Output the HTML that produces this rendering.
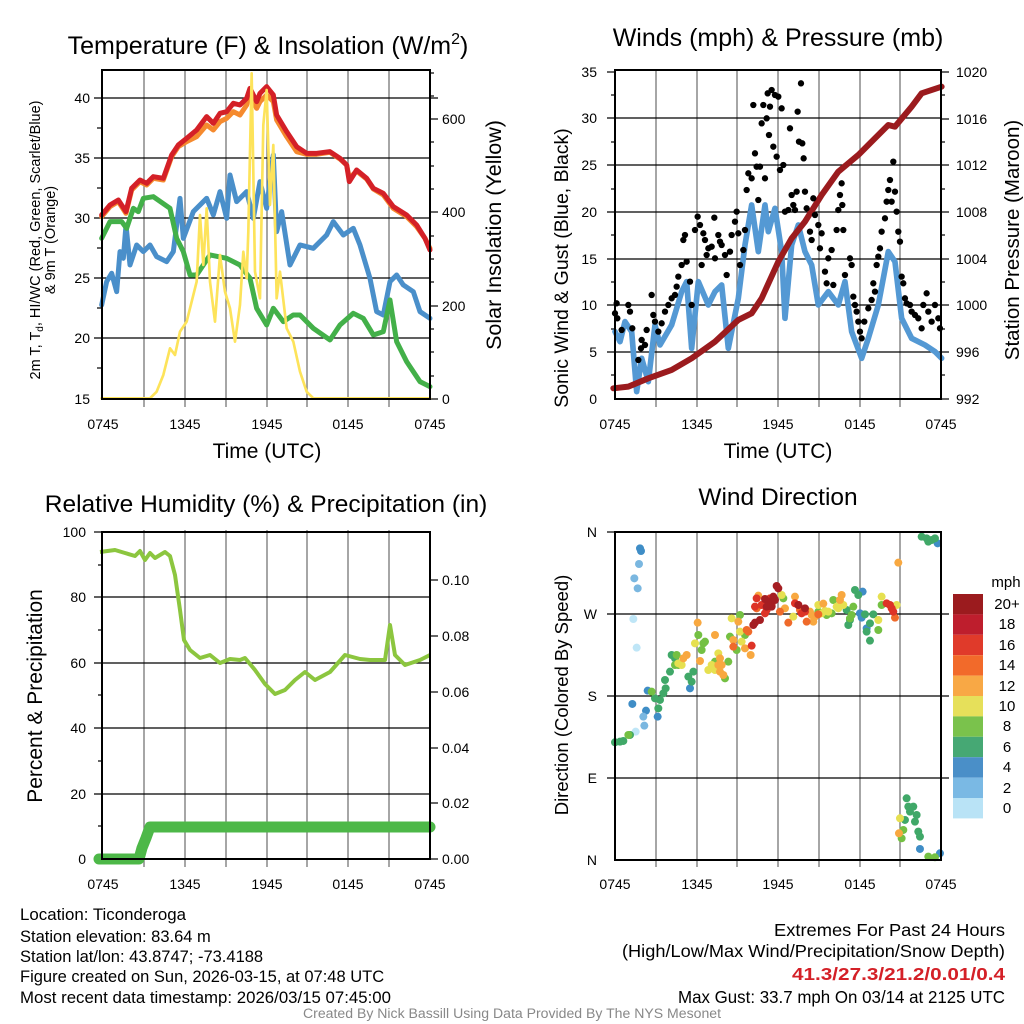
<!DOCTYPE html>
<html><head><meta charset="utf-8"><style>
html,body{margin:0;padding:0;background:#fff;}
svg{display:block;font-family:"Liberation Sans",Arial,sans-serif;}
</style></head><body>
<svg width="1024" height="1024" viewBox="0 0 1024 1024" xmlns="http://www.w3.org/2000/svg">
<rect width="1024" height="1024" fill="#fff"/>

<!-- ================= PANEL 1 ================= -->
<g>
<g stroke="#777" stroke-width="1.3">
<line x1="144" y1="70" x2="144" y2="407"/><line x1="185" y1="70" x2="185" y2="407"/><line x1="226" y1="70" x2="226" y2="407"/><line x1="267" y1="70" x2="267" y2="407"/><line x1="307" y1="70" x2="307" y2="407"/><line x1="348" y1="70" x2="348" y2="407"/><line x1="389" y1="70" x2="389" y2="407"/>
</g>
<g stroke="#000" stroke-width="1.2">
<line x1="94" y1="98" x2="438" y2="98"/><line x1="94" y1="158" x2="430" y2="158"/><line x1="94" y1="218" x2="430" y2="218"/><line x1="94" y1="278" x2="430" y2="278"/><line x1="94" y1="338" x2="430" y2="338"/>
<line x1="97" y1="128" x2="102" y2="128"/><line x1="97" y1="188" x2="102" y2="188"/><line x1="97" y1="248" x2="102" y2="248"/><line x1="97" y1="308" x2="102" y2="308"/><line x1="97" y1="368" x2="102" y2="368"/>
<line x1="430" y1="119" x2="438" y2="119"/><line x1="430" y1="212" x2="438" y2="212"/><line x1="430" y1="306" x2="438" y2="306"/><line x1="430" y1="399" x2="438" y2="399"/>
<line x1="430" y1="142" x2="434" y2="142"/><line x1="430" y1="166" x2="434" y2="166"/><line x1="430" y1="189" x2="434" y2="189"/><line x1="430" y1="236" x2="434" y2="236"/><line x1="430" y1="259" x2="434" y2="259"/><line x1="430" y1="282" x2="434" y2="282"/><line x1="430" y1="329" x2="434" y2="329"/><line x1="430" y1="352" x2="434" y2="352"/><line x1="430" y1="376" x2="434" y2="376"/><line x1="430" y1="96" x2="434" y2="96"/><line x1="430" y1="73" x2="434" y2="73"/>
</g>
<g transform="translate(100,65) scale(0.3333)" fill="none" stroke-linejoin="round" stroke-linecap="round">
<polyline stroke="#f58a2e" stroke-width="15" points="5,455 30,425 55,410 78,445 95,375 120,350 140,360 160,340 190,345 215,275 235,245 260,230 290,215 320,180 340,195 360,170 380,160 400,140 420,150 440,120 450,85 470,130 480,110 500,90 520,110 530,165 560,215 590,260 620,268 650,268 690,262 720,282 740,300 748,340 770,318 800,342 820,372 850,390 880,430 920,455 950,485 975,520 990,550"/>
<polyline stroke="#d42027" stroke-width="15" points="5,450 30,420 55,405 78,440 95,370 120,345 140,355 160,335 190,340 215,270 235,240 260,220 290,195 320,155 340,175 360,145 380,140 400,115 420,120 440,100 450,70 470,110 480,85 500,65 520,90 530,150 560,200 590,245 620,265 650,265 690,260 720,280 740,300 748,350 770,315 800,340 820,370 850,385 880,425 920,450 950,480 975,520 990,555"/>
<polyline stroke="#4a8fca" stroke-width="15" points="5,720 20,650 35,625 50,680 60,560 70,580 78,480 90,600 110,540 130,560 150,540 170,575 200,590 220,560 240,400 250,520 280,440 320,400 340,450 360,380 380,460 390,330 410,410 440,380 460,460 480,350 500,430 520,270 530,500 545,440 570,600 600,540 640,550 680,510 700,470 730,510 760,490 780,540 810,640 830,740 850,750 870,650 890,630 910,660 940,680 960,740 990,760"/>
<polyline stroke="#43b049" stroke-width="15" points="5,520 30,470 65,470 80,490 100,430 115,440 130,400 160,395 210,430 230,520 250,560 270,630 290,630 330,570 380,580 420,600 450,640 470,730 500,780 520,730 550,770 580,750 600,750 640,790 690,825 720,780 760,745 790,760 820,810 850,800 870,705 890,830 920,890 960,950 990,965"/>
<polyline stroke="#fde35a" stroke-width="8" points="5,1000 150,1000 170,980 190,930 210,850 225,870 240,800 260,770 290,650 300,450 310,600 320,430 330,650 345,770 360,570 375,680 390,730 405,830 420,720 430,560 440,640 445,500 455,25 465,620 480,700 490,180 500,75 510,420 520,240 530,700 540,620 560,790 580,830 600,920 620,980 640,1000 990,1000"/>
</g>
<rect x="102" y="70" width="328" height="329" fill="none" stroke="#000" stroke-width="2"/>
<g font-size="14" text-anchor="end" fill="#000">
<text x="90" y="103">40</text><text x="90" y="163">35</text><text x="90" y="223">30</text><text x="90" y="283">25</text><text x="90" y="343">20</text><text x="90" y="404">15</text>
</g>
<g font-size="14" text-anchor="start">
<text x="442" y="124">600</text><text x="442" y="217">400</text><text x="442" y="311">200</text><text x="442" y="404">0</text>
</g>
<g font-size="14" text-anchor="middle">
<text x="103" y="429">0745</text><text x="185" y="429">1345</text><text x="267" y="429">1945</text><text x="348" y="429">0145</text><text x="430" y="429">0745</text>
</g>
<text x="267" y="458" font-size="21" text-anchor="middle">Time (UTC)</text>
<text x="268" y="54" font-size="25" text-anchor="middle">Temperature (F) &amp; Insolation (W/m<tspan font-size="16" dy="-10">2</tspan><tspan dy="10">)</tspan></text>
<text transform="translate(40,240) rotate(-90)" font-size="14.5" text-anchor="middle">2m T, T<tspan font-size="10" dy="3">d</tspan><tspan dy="-3">, HI/WC (Red, Green, Scarlet/Blue)</tspan></text>
<text transform="translate(55,240) rotate(-90)" font-size="14.5" text-anchor="middle">&amp; 9m T (Orange)</text>
<text transform="translate(501,235) rotate(-90)" font-size="21.5" text-anchor="middle">Solar Insolation (Yellow)</text>
</g>

<!-- ================= PANEL 2 ================= -->
<g>
<g stroke="#777" stroke-width="1.3">
<line x1="656" y1="70" x2="656" y2="407"/><line x1="697" y1="70" x2="697" y2="407"/><line x1="737" y1="70" x2="737" y2="407"/><line x1="778" y1="70" x2="778" y2="407"/><line x1="819" y1="70" x2="819" y2="407"/><line x1="860" y1="70" x2="860" y2="407"/><line x1="900" y1="70" x2="900" y2="407"/>
</g>
<g stroke="#000" stroke-width="1.2">
<line x1="607" y1="72" x2="615" y2="72"/>
<line x1="607" y1="118" x2="941" y2="118"/><line x1="607" y1="165" x2="941" y2="165"/><line x1="607" y1="212" x2="941" y2="212"/><line x1="607" y1="259" x2="941" y2="259"/><line x1="607" y1="305" x2="941" y2="305"/><line x1="607" y1="352" x2="941" y2="352"/>
<line x1="941" y1="72" x2="949" y2="72"/><line x1="941" y1="119" x2="949" y2="119"/><line x1="941" y1="165" x2="949" y2="165"/><line x1="941" y1="212" x2="949" y2="212"/><line x1="941" y1="259" x2="949" y2="259"/><line x1="941" y1="305" x2="949" y2="305"/><line x1="941" y1="352" x2="949" y2="352"/><line x1="941" y1="399" x2="949" y2="399"/>
<line x1="941" y1="95" x2="945" y2="95"/><line x1="941" y1="142" x2="945" y2="142"/><line x1="941" y1="189" x2="945" y2="189"/><line x1="941" y1="235" x2="945" y2="235"/><line x1="941" y1="282" x2="945" y2="282"/><line x1="941" y1="329" x2="945" y2="329"/><line x1="941" y1="375" x2="945" y2="375"/>
<line x1="611" y1="95" x2="615" y2="95"/><line x1="611" y1="142" x2="615" y2="142"/><line x1="611" y1="189" x2="615" y2="189"/><line x1="611" y1="235" x2="615" y2="235"/><line x1="611" y1="282" x2="615" y2="282"/><line x1="611" y1="329" x2="615" y2="329"/><line x1="611" y1="375" x2="615" y2="375"/>
</g>
<g transform="translate(605,65) scale(0.3333)" fill="none" stroke-linejoin="round" stroke-linecap="round">
<polyline stroke="#5499d4" stroke-width="17" points="30,800 45,830 60,770 80,800 95,980 110,880 130,950 150,780 165,840 200,780 230,680 245,650 260,850 280,650 310,720 330,680 350,660 370,850 400,700 420,540 440,420 460,560 480,420 490,500 510,430 530,560 540,760 560,540 580,480 600,560 620,600 640,720 670,680 700,720 720,650 740,800 770,880 790,820 820,720 850,560 870,590 890,760 920,820 960,840 990,860 1010,880"/>
<polyline stroke="#9b1b1e" stroke-width="18" points="25,970 70,965 130,940 200,915 260,880 330,830 400,765 440,745 470,700 520,590 560,520 600,470 650,390 700,320 760,270 800,230 850,180 870,185 920,125 950,85 1010,65"/>
<path stroke="#000" stroke-width="19" d="M30,745h0M37,760h0M35,715h0M50,795h0M70,720h0M75,740h0M82,790h0M100,885h0M108,850h0M110,825h0M125,795h0M120,840h0M140,690h0M145,750h0M150,770h0M160,800h0M170,775h0M180,740h0M190,720h0M200,700h0M210,690h0M215,665h0M220,635h0M230,600h0M235,525h0M240,510h0M245,590h0M255,650h0M260,720h0M270,495h0M278,455h0M285,480h0M290,600h0M295,505h0M300,525h0M305,570h0M310,550h0M320,545h0M328,458h0M330,580h0M340,510h0M345,530h0M350,540h0M360,570h0M365,630h0M375,560h0M380,510h0M390,470h0M395,440h0M400,505h0M405,600h0M415,555h0M420,495h0M425,375h0M430,325h0M440,340h0M445,120h0M450,265h0M455,305h0M460,405h0M465,305h0M470,175h0M475,120h0M480,340h0M485,160h0M488,85h0M492,210h0M495,125h0M500,75h0M505,245h0M510,90h0M515,275h0M520,95h0M525,315h0M530,130h0M535,300h0M540,440h0M550,435h0M555,190h0M560,390h0M565,420h0M570,435h0M575,380h0M578,140h0M582,230h0M588,55h0M592,235h0M596,280h0M600,380h0M605,430h0M615,500h0M620,525h0M625,400h0M630,450h0M640,480h0M645,550h0M650,505h0M660,620h0M665,655h0M670,580h0M680,555h0M685,660h0M695,495h0M700,435h0M705,390h0M710,355h0M712,420h0M715,495h0M720,630h0M735,580h0M740,600h0M745,695h0M750,720h0M755,740h0M760,770h0M765,800h0M770,820h0M778,770h0M790,730h0M800,705h0M805,655h0M810,680h0M815,600h0M820,575h0M825,550h0M830,500h0M840,460h0M845,410h0M850,375h0M855,345h0M860,410h0M865,290h0M870,380h0M875,440h0M880,500h0M885,530h0M890,635h0M895,655h0M900,700h0M905,715h0M915,720h0M920,740h0M930,750h0M940,760h0M950,790h0M955,720h0M965,685h0M970,740h0M980,770h0M990,720h0M1000,760h0M1005,790h0"/>
</g>
<rect x="615" y="70" width="326" height="329" fill="none" stroke="#000" stroke-width="2"/>
<g font-size="14" text-anchor="end">
<text x="597" y="77">35</text><text x="597" y="123">30</text><text x="597" y="170">25</text><text x="597" y="217">20</text><text x="597" y="264">15</text><text x="597" y="310">10</text><text x="597" y="357">5</text><text x="597" y="404">0</text>
</g>
<g font-size="14" text-anchor="start">
<text x="956" y="77">1020</text><text x="956" y="124">1016</text><text x="956" y="170">1012</text><text x="956" y="217">1008</text><text x="956" y="264">1004</text><text x="956" y="310">1000</text><text x="956" y="357">996</text><text x="956" y="404">992</text>
</g>
<g font-size="14" text-anchor="middle">
<text x="615" y="429">0745</text><text x="697" y="429">1345</text><text x="778" y="429">1945</text><text x="860" y="429">0145</text><text x="941" y="429">0745</text>
</g>
<text x="778" y="458" font-size="21" text-anchor="middle">Time (UTC)</text>
<text x="778" y="46" font-size="25" text-anchor="middle">Winds (mph) &amp; Pressure (mb)</text>
<text transform="translate(568,268) rotate(-90)" font-size="19.5" text-anchor="middle">Sonic Wind &amp; Gust (Blue, Black)</text>
<text transform="translate(1019,240) rotate(-90)" font-size="20.5" text-anchor="middle">Station Pressure (Maroon)</text>
</g>

<!-- ================= PANEL 3 ================= -->
<g>
<g stroke="#777" stroke-width="1.3">
<line x1="144" y1="530" x2="144" y2="867"/><line x1="185" y1="530" x2="185" y2="867"/><line x1="226" y1="530" x2="226" y2="867"/><line x1="267" y1="530" x2="267" y2="867"/><line x1="307" y1="530" x2="307" y2="867"/><line x1="348" y1="530" x2="348" y2="867"/><line x1="389" y1="530" x2="389" y2="867"/>
</g>
<g stroke="#000" stroke-width="1.2">
<line x1="94" y1="532" x2="102" y2="532"/>
<line x1="94" y1="597" x2="430" y2="597"/><line x1="94" y1="663" x2="430" y2="663"/><line x1="94" y1="728" x2="430" y2="728"/><line x1="94" y1="794" x2="430" y2="794"/>
<line x1="430" y1="580" x2="438" y2="580"/><line x1="430" y1="636" x2="438" y2="636"/><line x1="430" y1="692" x2="438" y2="692"/><line x1="430" y1="748" x2="438" y2="748"/><line x1="430" y1="803" x2="438" y2="803"/><line x1="430" y1="859" x2="438" y2="859"/>
<line x1="98" y1="565" x2="102" y2="565"/><line x1="98" y1="630" x2="102" y2="630"/><line x1="98" y1="695" x2="102" y2="695"/><line x1="98" y1="761" x2="102" y2="761"/><line x1="98" y1="826" x2="102" y2="826"/>
</g>
<polyline fill="none" stroke="#8cc63f" stroke-width="4" stroke-linejoin="round" points="100,552 115,550 125,553 135,556 140,551 145,560 150,553 155,558 165,552 170,556 175,575 180,610 184,640 190,650 200,658 210,655 220,663 230,659 240,660 245,658 255,670 265,684 275,694 285,690 295,680 305,672 315,680 330,672 345,655 360,659 370,660 385,660 390,625 395,655 405,665 420,660 430,655"/>
<polyline fill="none" stroke="#4db848" stroke-width="11" stroke-linejoin="round" stroke-linecap="round" points="99,859 139,859 142,848 146,838 150,827 430,827"/>
<rect x="102" y="532" width="328" height="327" fill="none" stroke="#000" stroke-width="2"/>
<g font-size="14" text-anchor="end">
<text x="86" y="537">100</text><text x="86" y="602">80</text><text x="86" y="668">60</text><text x="86" y="733">40</text><text x="86" y="799">20</text><text x="86" y="864">0</text>
</g>
<g font-size="14" text-anchor="start">
<text x="442" y="585">0.10</text><text x="442" y="641">0.08</text><text x="442" y="697">0.06</text><text x="442" y="753">0.04</text><text x="442" y="808">0.02</text><text x="442" y="864">0.00</text>
</g>
<g font-size="14" text-anchor="middle">
<text x="103" y="889">0745</text><text x="185" y="889">1345</text><text x="267" y="889">1945</text><text x="348" y="889">0145</text><text x="430" y="889">0745</text>
</g>
<text x="266" y="512" font-size="24.5" text-anchor="middle">Relative Humidity (%) &amp; Precipitation (in)</text>
<text transform="translate(42,696) rotate(-90)" font-size="21" text-anchor="middle">Percent &amp; Precipitation</text>
</g>

<!-- ================= PANEL 4 ================= -->
<g>
<g stroke="#777" stroke-width="1.3">
<line x1="656" y1="532" x2="656" y2="867"/><line x1="697" y1="532" x2="697" y2="867"/><line x1="737" y1="532" x2="737" y2="867"/><line x1="778" y1="532" x2="778" y2="867"/><line x1="819" y1="532" x2="819" y2="867"/><line x1="860" y1="532" x2="860" y2="867"/><line x1="900" y1="532" x2="900" y2="867"/>
</g>
<g stroke="#000" stroke-width="1.2">
<line x1="607" y1="532" x2="615" y2="532"/>
<line x1="607" y1="614" x2="949" y2="614"/><line x1="607" y1="696" x2="949" y2="696"/><line x1="607" y1="778" x2="949" y2="778"/>
</g>
<g transform="translate(605,525) scale(0.3333)" stroke="none">
<g fill="#3f8dc6"><circle cx="105" cy="70" r="12"/><circle cx="108" cy="78" r="12"/><circle cx="82" cy="537" r="12"/><circle cx="123" cy="557" r="12"/><circle cx="158" cy="575" r="12"/><circle cx="255" cy="490" r="12"/><circle cx="128" cy="497" r="12"/><circle cx="945" cy="972" r="12"/><circle cx="1005" cy="985" r="12"/><circle cx="998" cy="55" r="12"/><circle cx="773" cy="200" r="12"/><circle cx="765" cy="265" r="12"/><circle cx="770" cy="278" r="12"/><circle cx="785" cy="310" r="12"/></g>
<g fill="#7ab7e0"><circle cx="102" cy="117" r="12"/><circle cx="88" cy="160" r="12"/><circle cx="98" cy="190" r="12"/><circle cx="118" cy="602" r="12"/><circle cx="115" cy="575" r="12"/></g>
<g fill="#bfe6f7"><circle cx="85" cy="282" r="12"/><circle cx="95" cy="368" r="12"/><circle cx="92" cy="620" r="12"/></g>
<g fill="#40a868"><circle cx="30" cy="652" r="12"/><circle cx="45" cy="650" r="12"/><circle cx="55" cy="648" r="12"/><circle cx="75" cy="630" r="12"/><circle cx="150" cy="520" r="12"/><circle cx="160" cy="550" r="12"/><circle cx="165" cy="525" r="12"/><circle cx="175" cy="505" r="12"/><circle cx="182" cy="490" r="12"/><circle cx="180" cy="465" r="12"/><circle cx="195" cy="440" r="12"/><circle cx="200" cy="390" r="12"/><circle cx="210" cy="400" r="12"/><circle cx="250" cy="455" r="12"/><circle cx="260" cy="470" r="12"/><circle cx="265" cy="440" r="12"/><circle cx="725" cy="255" r="12"/><circle cx="735" cy="285" r="12"/><circle cx="730" cy="300" r="12"/><circle cx="750" cy="195" r="12"/><circle cx="760" cy="210" r="12"/><circle cx="780" cy="268" r="12"/><circle cx="805" cy="268" r="12"/><circle cx="795" cy="295" r="12"/><circle cx="795" cy="347" r="12"/><circle cx="785" cy="320" r="12"/><circle cx="905" cy="820" r="12"/><circle cx="910" cy="845" r="12"/><circle cx="915" cy="860" r="12"/><circle cx="925" cy="845" r="12"/><circle cx="935" cy="870" r="12"/><circle cx="930" cy="890" r="12"/><circle cx="940" cy="920" r="12"/><circle cx="945" cy="935" r="12"/><circle cx="900" cy="885" r="12"/><circle cx="950" cy="35" r="12"/><circle cx="965" cy="40" r="12"/><circle cx="980" cy="45" r="12"/><circle cx="990" cy="40" r="12"/><circle cx="970" cy="50" r="12"/></g>
<g fill="#74c043"><circle cx="140" cy="500" r="12"/><circle cx="70" cy="630" r="12"/><circle cx="215" cy="390" r="12"/><circle cx="210" cy="420" r="12"/><circle cx="280" cy="330" r="12"/><circle cx="295" cy="355" r="12"/><circle cx="290" cy="375" r="12"/><circle cx="300" cy="350" r="12"/><circle cx="330" cy="410" r="12"/><circle cx="370" cy="410" r="12"/><circle cx="360" cy="460" r="12"/><circle cx="375" cy="335" r="12"/><circle cx="405" cy="270" r="12"/><circle cx="395" cy="375" r="12"/><circle cx="420" cy="330" r="12"/><circle cx="535" cy="220" r="12"/><circle cx="640" cy="260" r="12"/><circle cx="665" cy="270" r="12"/><circle cx="680" cy="265" r="12"/><circle cx="685" cy="225" r="12"/><circle cx="740" cy="270" r="12"/><circle cx="745" cy="245" r="12"/><circle cx="735" cy="280" r="12"/><circle cx="820" cy="315" r="12"/><circle cx="830" cy="240" r="12"/><circle cx="890" cy="940" r="12"/><circle cx="895" cy="915" r="12"/><circle cx="970" cy="995" r="12"/><circle cx="990" cy="997" r="12"/><circle cx="220" cy="420" r="12"/></g>
<g fill="#e6e050"><circle cx="230" cy="420" r="12"/><circle cx="220" cy="415" r="12"/><circle cx="270" cy="355" r="12"/><circle cx="310" cy="435" r="12"/><circle cx="320" cy="420" r="12"/><circle cx="340" cy="385" r="12"/><circle cx="330" cy="435" r="12"/><circle cx="380" cy="280" r="12"/><circle cx="405" cy="320" r="12"/><circle cx="410" cy="350" r="12"/><circle cx="530" cy="210" r="12"/><circle cx="565" cy="275" r="12"/><circle cx="640" cy="240" r="12"/><circle cx="670" cy="260" r="12"/><circle cx="700" cy="250" r="12"/><circle cx="715" cy="240" r="12"/><circle cx="695" cy="245" r="12"/><circle cx="650" cy="265" r="12"/><circle cx="830" cy="215" r="12"/><circle cx="820" cy="285" r="12"/><circle cx="875" cy="240" r="12"/><circle cx="885" cy="880" r="12"/><circle cx="660" cy="258" r="12"/></g>
<g fill="#f8a840"><circle cx="235" cy="400" r="12"/><circle cx="245" cy="390" r="12"/><circle cx="278" cy="293" r="12"/><circle cx="285" cy="408" r="12"/><circle cx="330" cy="330" r="12"/><circle cx="345" cy="400" r="12"/><circle cx="345" cy="440" r="12"/><circle cx="350" cy="420" r="12"/><circle cx="355" cy="450" r="12"/><circle cx="340" cy="420" r="12"/><circle cx="385" cy="345" r="12"/><circle cx="400" cy="290" r="12"/><circle cx="420" cy="370" r="12"/><circle cx="437" cy="390" r="12"/><circle cx="540" cy="250" r="12"/><circle cx="570" cy="215" r="12"/><circle cx="620" cy="270" r="12"/><circle cx="625" cy="290" r="12"/><circle cx="630" cy="275" r="12"/><circle cx="655" cy="236" r="12"/><circle cx="710" cy="210" r="12"/><circle cx="705" cy="225" r="12"/><circle cx="880" cy="113" r="12"/><circle cx="882" cy="925" r="12"/><circle cx="460" cy="212" r="12"/><circle cx="615" cy="260" r="12"/></g>
<g fill="#ef6a2a"><circle cx="385" cy="365" r="12"/><circle cx="430" cy="320" r="12"/><circle cx="425" cy="315" r="12"/><circle cx="550" cy="293" r="12"/><circle cx="525" cy="260" r="12"/><circle cx="605" cy="290" r="12"/><circle cx="585" cy="255" r="12"/><circle cx="640" cy="268" r="12"/><circle cx="870" cy="278" r="12"/><circle cx="455" cy="250" r="12"/></g>
<g fill="#dd3327"><circle cx="440" cy="362" r="12"/><circle cx="450" cy="245" r="12"/><circle cx="455" cy="220" r="12"/><circle cx="470" cy="240" r="12"/><circle cx="480" cy="265" r="12"/><circle cx="485" cy="255" r="12"/><circle cx="500" cy="240" r="12"/><circle cx="570" cy="235" r="12"/><circle cx="580" cy="240" r="12"/><circle cx="590" cy="265" r="12"/><circle cx="600" cy="260" r="12"/><circle cx="845" cy="235" r="12"/><circle cx="855" cy="240" r="12"/><circle cx="860" cy="250" r="12"/><circle cx="865" cy="260" r="12"/><circle cx="495" cy="220" r="12"/></g>
<g fill="#a51e22"><circle cx="445" cy="300" r="12"/><circle cx="450" cy="293" r="12"/><circle cx="465" cy="285" r="12"/><circle cx="480" cy="222" r="12"/><circle cx="490" cy="230" r="12"/><circle cx="500" cy="245" r="12"/><circle cx="505" cy="215" r="12"/><circle cx="510" cy="225" r="12"/><circle cx="515" cy="183" r="12"/><circle cx="520" cy="190" r="12"/><circle cx="580" cy="240" r="12"/><circle cx="600" cy="250" r="12"/><circle cx="485" cy="245" r="12"/></g>
</g>
<rect x="615" y="532" width="326" height="328" fill="none" stroke="#000" stroke-width="2"/>
<g font-size="14" text-anchor="end">
<text x="597" y="537">N</text><text x="597" y="619">W</text><text x="597" y="701">S</text><text x="597" y="783">E</text><text x="597" y="865">N</text>
</g>
<g font-size="14" text-anchor="middle">
<text x="615" y="889">0745</text><text x="697" y="889">1345</text><text x="778" y="889">1945</text><text x="860" y="889">0145</text><text x="941" y="889">0745</text>
</g>
<text x="778" y="505" font-size="24.5" text-anchor="middle">Wind Direction</text>
<text transform="translate(568,695) rotate(-90)" font-size="18.5" text-anchor="middle">Direction (Colored By Speed)</text>
<g>
<rect x="953" y="594" width="30" height="20.4" fill="#9b1b1e"/>
<rect x="953" y="614.4" width="30" height="20.4" fill="#be1e2d"/>
<rect x="953" y="634.8" width="30" height="20.4" fill="#e03a2a"/>
<rect x="953" y="655.2" width="30" height="20.4" fill="#f26a2a"/>
<rect x="953" y="675.6" width="30" height="20.4" fill="#f8a845"/>
<rect x="953" y="696" width="30" height="20.4" fill="#e6e05a"/>
<rect x="953" y="716.4" width="30" height="20.4" fill="#7ac24c"/>
<rect x="953" y="736.8" width="30" height="20.4" fill="#46a874"/>
<rect x="953" y="757.2" width="30" height="20.4" fill="#4a8fc8"/>
<rect x="953" y="777.6" width="30" height="20.4" fill="#7ab9e4"/>
<rect x="953" y="798" width="30" height="20.4" fill="#b9e3f6"/>
</g>
<g font-size="15" text-anchor="middle">
<text x="1006" y="587">mph</text>
<text x="1007" y="609">20+</text><text x="1007" y="629">18</text><text x="1007" y="650">16</text><text x="1007" y="670">14</text><text x="1007" y="691">12</text><text x="1007" y="711">10</text><text x="1007" y="731">8</text><text x="1007" y="752">6</text><text x="1007" y="772">4</text><text x="1007" y="793">2</text><text x="1007" y="813">0</text>
</g>
</g>

<!-- ================= FOOTER ================= -->
<g font-size="16.5">
<text x="20" y="920" textLength="166" lengthAdjust="spacingAndGlyphs">Location: Ticonderoga</text>
<text x="20" y="942">Station elevation: 83.64 m</text>
<text x="20" y="962">Station lat/lon: 43.8747; -73.4188</text>
<text x="20" y="982">Figure created on Sun, 2026-03-15, at 07:48 UTC</text>
<text x="20" y="1003" textLength="371" lengthAdjust="spacingAndGlyphs">Most recent data timestamp: 2026/03/15 07:45:00</text>
</g>
<g font-size="17.5">
<text x="774" y="936" textLength="231" lengthAdjust="spacingAndGlyphs">Extremes For Past 24 Hours</text>
<text x="622" y="957" textLength="383" lengthAdjust="spacingAndGlyphs">(High/Low/Max Wind/Precipitation/Snow Depth)</text>
<text x="792" y="980" textLength="213" lengthAdjust="spacingAndGlyphs" fill="#d42027" font-weight="bold">41.3/27.3/21.2/0.01/0.4</text>
<text x="678" y="1003" textLength="327" lengthAdjust="spacingAndGlyphs">Max Gust: 33.7 mph On 03/14 at 2125 UTC</text>
</g>
<text x="303" y="1018" font-size="13.5" fill="#888" textLength="418" lengthAdjust="spacingAndGlyphs">Created By Nick Bassill Using Data Provided By The NYS Mesonet</text>
</svg>
</body></html>
